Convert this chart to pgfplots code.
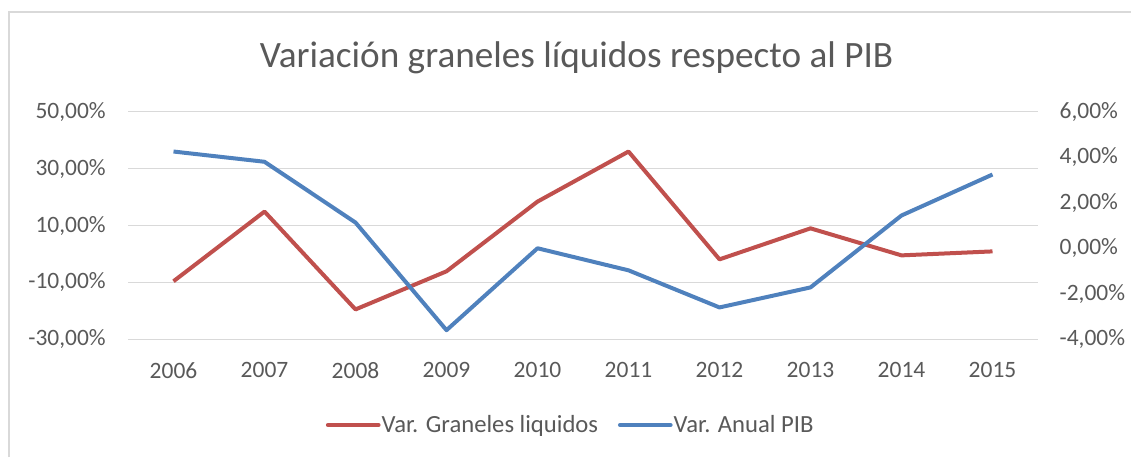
\documentclass[border=0pt]{standalone}
\usepackage{fontspec}
\setmainfont{Carlito}
\usepackage{pgfplots}
\pgfplotsset{compat=1.18}
\definecolor{txt}{HTML}{595959}
\definecolor{gridc}{HTML}{D9D9D9}
\definecolor{redl}{HTML}{C0504D}
\definecolor{bluel}{HTML}{4F81BD}
\begin{document}
\begin{tikzpicture}
\useasboundingbox (0,0) rectangle (848.25pt,342.75pt);
\draw[gridc, line width=1.1pt] (6.75pt,0pt) -- (6.75pt,333.75pt) -- (848.25pt,333.75pt);
\node[anchor=base, text=txt, font=\fontsize{27.9}{32}\selectfont, inner sep=0pt] at (432.4pt,291.75pt) {Variación graneles líquidos respecto al PIB};
\pgfplotsset{
  common/.style={
    at={(96pt,88.275pt)}, anchor=south west,
    scale only axis, width=682.5pt, height=170.7pt,
    xmin=2005.5, xmax=2015.5,
    axis line style={draw=none}, tick style={draw=none},
    ticklabel style={font=\fontsize{17.6}{20}\selectfont, text=txt, inner sep=0pt},
    /pgf/number format/assume math mode=true,
    clip=false,
  }
}
\begin{axis}[common,
  ymin=-30, ymax=50,
  ytick={-30,-10,10,30,50},
  yticklabels={{-30,00\%},{-10,00\%},{10,00\%},{30,00\%},{50,00\%}},
  yticklabel style={anchor=east},
  yticklabel shift=16.5pt,
  xtick={2006,2007,2008,2009,2010,2011,2012,2013,2014,2015},
  xticklabels={2006,2007,2008,2009,2010,2011,2012,2013,2014,2015},
  xticklabel style={anchor=north},
  xticklabel shift=17pt,
  ymajorgrids, grid style={gridc, line width=0.9pt},
]
\addplot[redl, line width=3pt, line join=round] coordinates {
(2006,-9.6) (2007,14.9) (2008,-19.5) (2009,-6.1) (2010,18.4)
(2011,36.0) (2012,-1.9) (2013,9.0) (2014,-0.5) (2015,0.9)};
\end{axis}
\begin{axis}[common,
  ymin=-4, ymax=6,
  axis y line*=right, axis x line=none,
  ytick={-4,-2,0,2,4,6},
  yticklabels={{-4,00\%},{-2,00\%},{0,00\%},{2,00\%},{4,00\%},{6,00\%}},
  yticklabel style={anchor=west},
  yticklabel shift=16pt,
  legend columns=2,
  legend style={at={(0.486,-0.3765)}, anchor=center, draw=none, fill=none,
    font=\fontsize{18.5}{22}\selectfont, text=txt,
    /tikz/every even column/.append style={column sep=14pt},
    nodes={inner sep=0.8pt}},
  legend image code/.code={\draw[#1, line cap=round] (0pt,0pt) -- (38pt,0pt);},
]
\addlegendimage{redl, line width=3pt}
\addlegendentry{Var. Graneles liquidos}
\addplot[bluel, line width=3pt, line join=round] coordinates {
(2006,4.25) (2007,3.8) (2008,1.13) (2009,-3.6) (2010,0.0)
(2011,-0.97) (2012,-2.6) (2013,-1.72) (2014,1.44) (2015,3.24)};
\addlegendentry{Var. Anual PIB}
\end{axis}
\end{tikzpicture}
\end{document}
